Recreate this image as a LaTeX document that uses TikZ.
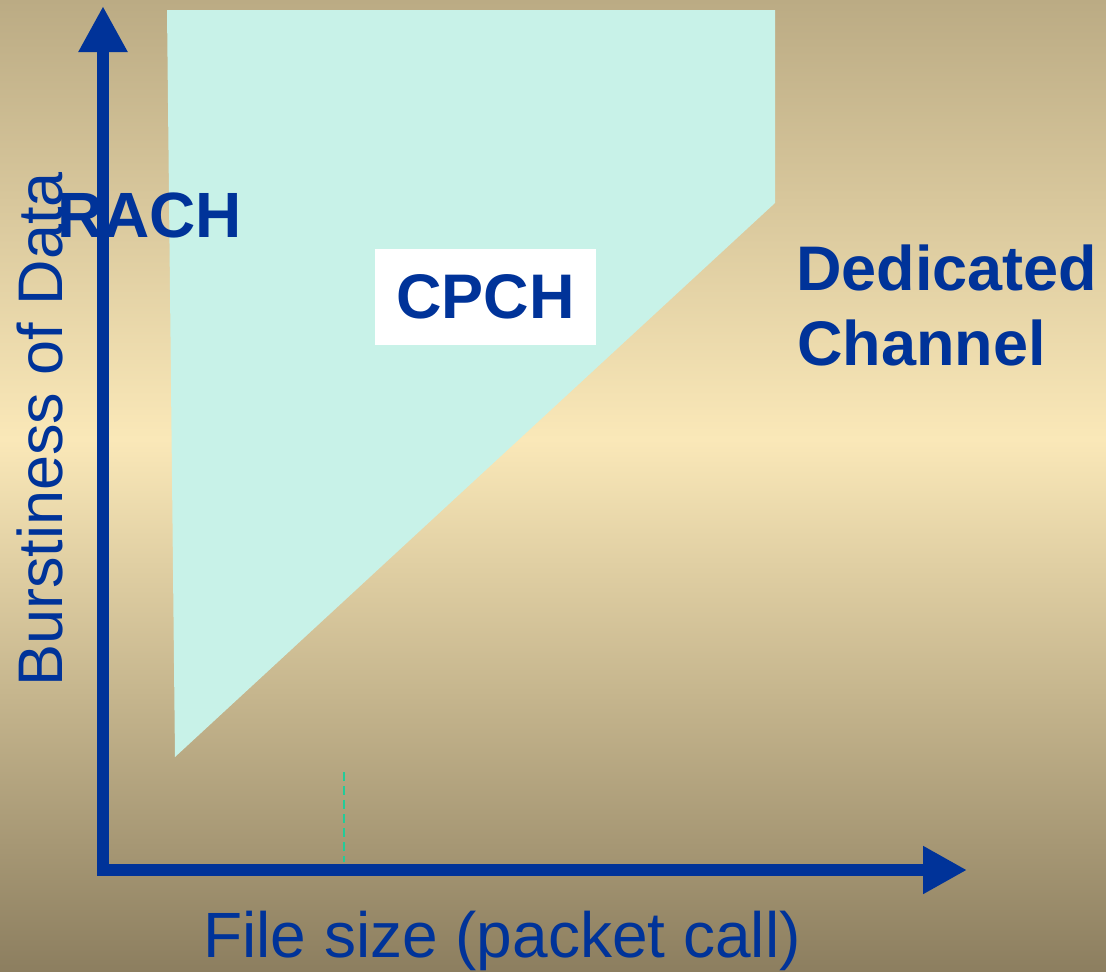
\documentclass[tikz,border=0pt]{standalone}
\usepackage{fontspec}
\setmainfont{Liberation Sans}
\usetikzlibrary{arrows.meta}
\definecolor{axisblue}{HTML}{003399}
\definecolor{bgtop}{HTML}{BBAB84}
\definecolor{bgmid}{HTML}{FAE8B8}
\definecolor{bgbot}{HTML}{8C7E5F}
\definecolor{cpchfill}{HTML}{C8F2E8}
\definecolor{dashgreen}{HTML}{22CC99}
\pgfdeclareverticalshading{bgshade}{100bp}{color(0bp)=(bgbot); color(25bp)=(bgbot); color(52.4bp)=(bgmid); color(75bp)=(bgtop); color(100bp)=(bgtop)}
\tikzset{
  lbl/.style={text=axisblue, inner sep=0pt, font=\fontsize{63}{75}\selectfont},
  boldlbl/.style={lbl, font=\fontsize{63}{75}\selectfont\bfseries},
  axisline/.style={draw=axisblue, line width=12pt, line join=miter},
}
\begin{document}
\begin{tikzpicture}[x=1pt,y=-1pt]
\useasboundingbox (0,0) rectangle (1106,972);
% background
\shade[shading=bgshade] (0,0) rectangle (1106,972);
% CPCH region
\fill[cpchfill] (167,10) -- (775,10) -- (775,203) -- (175,757) -- cycle;
% dashed marker
\coordinate (dtop) at (344,772);
\coordinate (dbot) at (344,862);
\draw[dashgreen, line width=2pt, dash pattern=on 9pt off 5pt] (dtop) -- (dbot);
% axes
\coordinate (ytip) at (103,6);
\coordinate (orig) at (103,870);
\coordinate (xtip) at (967,870);
\draw[axisline, {Triangle[length=46pt,width=46pt]}-{Triangle[length=44pt,width=45pt]}] (ytip) -- (orig) -- (xtip);
% labels
\node[boldlbl, font=\fontsize{64}{75}\selectfont\bfseries, anchor=base west] (rach) at (57,237) {RACH};
\node[boldlbl, fill=white, minimum width=221pt, minimum height=96pt] (cpch) at (485.5,297) {CPCH};
\node[boldlbl, anchor=base west] (ded) at (796,290) {Dedicated};
\node[boldlbl, anchor=base west] (chan) at (797,365) {Channel};
\node[lbl, rotate=90, anchor=base west] (ylab) at (62,687) {Burstiness of Data};
\node[lbl, font=\fontsize{64}{75}\selectfont, anchor=base west] (xlab) at (203,957) {File size (packet call)};
\end{tikzpicture}
\end{document}
